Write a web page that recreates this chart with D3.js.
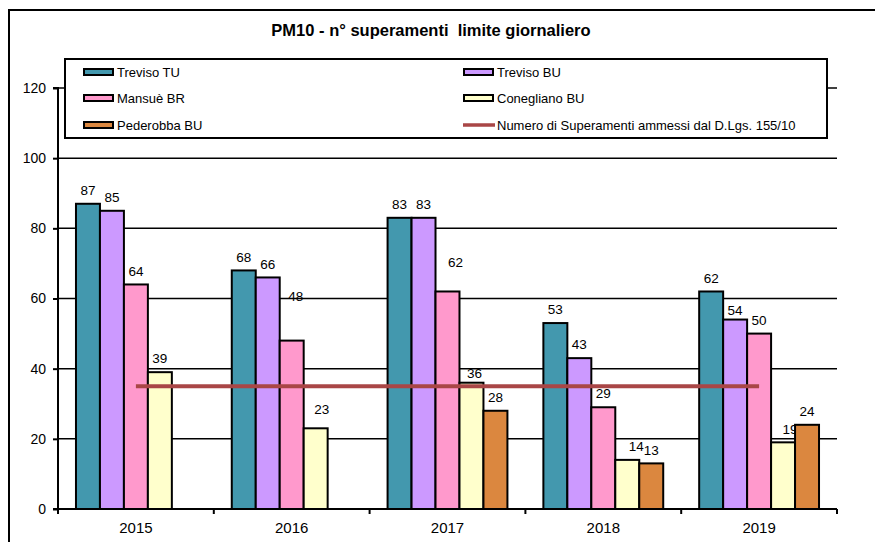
<!DOCTYPE html>
<html>
<head>
<meta charset="utf-8">
<script src="https://cdn.jsdelivr.net/npm/d3@7"></script>
<style>
  html, body { margin: 0; padding: 0; background: #fff; }
  svg { display: block; font-family: "Liberation Sans", Arial, sans-serif; }
</style>
</head>
<body>
<svg id="chart" width="875" height="542"></svg>
<script>
// ---- data ----
const years = ["2015", "2016", "2017", "2018", "2019"];
const seriesNames = ["Treviso TU", "Treviso BU", "Mansuè BR", "Conegliano BU", "Pederobba BU"];
const trevisoTU = [87, 68, 83, 53, 62];
const trevisoBU = [85, 66, 83, 43, 54];
const mansueBR = [64, 48, 62, 29, 50];
const coneglianoBU = [39, 23, 36, 14, 19];
const pederobbaBU = [null, null, 28, 13, 24];
const limitName = "Numero di Superamenti ammessi dal D.Lgs. 155/10";
const limitValues = [35, 35, 35, 35, 35];
const yTicks = [0, 20, 40, 60, 80, 100, 120];
const title = "PM10 - n° superamenti  limite giornaliero";

// ---- styles / layout ----
const seriesValues = [trevisoTU, trevisoBU, mansueBR, coneglianoBU, pederobbaBU];
const colors = ["#4398AE", "#CC99FF", "#FF99CC", "#FFFFCC", "#DB873F"];
const limitColor = "#A94646";
// label nudges (px) for labels that the original moved to avoid overlaps
const labelNudge = { "2-1": [4, -31], "3-1": [6, -6], "2-2": [8, -16], "3-2": [3, 4], "3-3": [9, 0], "1-4": [0, 4], "3-4": [7, 0] };

const svg = d3.select("#chart");
const plot = { left: 58, right: 837, top: 88, bottom: 509 };

// outer chart frame
svg.append("rect").attr("x", 9).attr("y", 10).attr("width", 880).attr("height", 560)
  .attr("fill", "#fff").attr("stroke", "#000").attr("stroke-width", 2);

// title
svg.append("text").attr("x", 431).attr("y", 30).attr("dy", "0.35em")
  .attr("text-anchor", "middle").style("white-space", "pre")
  .attr("font-size", 16.5).attr("font-weight", "bold").text(title);

const x = d3.scaleBand().domain(years).range([plot.left, plot.right]).padding(0);
const x1 = d3.scaleBand().domain(d3.range(seriesNames.length)).range([0, x.bandwidth()])
  .paddingInner(0).paddingOuter(0.75);
const y = d3.scaleLinear().domain([0, 120]).range([plot.bottom, plot.top]);

// gridlines
svg.append("g").selectAll("line").data(yTicks.filter(t => t > 0)).join("line")
  .attr("x1", plot.left).attr("x2", plot.right)
  .attr("y1", d => y(d)).attr("y2", d => y(d))
  .attr("stroke", "#000").attr("stroke-width", 1.5);

// bars + labels, series by series
seriesValues.forEach((vals, s) => {
  const g = svg.append("g");
  const data = vals.map((v, i) => ({ v, i, year: years[i] })).filter(d => d.v != null);
  g.selectAll("rect").data(data).join("rect")
    .attr("x", d => x(d.year) + x1(s))
    .attr("y", d => y(d.v))
    .attr("width", x1.bandwidth())
    .attr("height", d => y(0) - y(d.v))
    .attr("fill", colors[s]).attr("stroke", "#000").attr("stroke-width", 2);
  g.selectAll("text").data(data).join("text")
    .attr("x", d => x(d.year) + x1(s) + x1.bandwidth() / 2 + ((labelNudge[s + "-" + d.i] || [0, 0])[0]))
    .attr("y", d => y(d.v) - 13.5 + ((labelNudge[s + "-" + d.i] || [0, 0])[1]))
    .attr("dy", "0.35em").attr("text-anchor", "middle")
    .attr("font-size", 13.5).attr("fill", "#000").text(d => d.v);
});

// limit line
const line = d3.line().x((d, i) => x(years[i]) + x.bandwidth() / 2).y(d => y(d));
svg.append("path").datum(limitValues).attr("d", line)
  .attr("fill", "none").attr("stroke", limitColor).attr("stroke-width", 4);

// y axis
const yAxis = d3.axisLeft(y).tickValues(yTicks).tickSize(5).tickPadding(7);
const gy = svg.append("g").attr("transform", `translate(${plot.left},0)`).call(yAxis);
gy.select(".domain").attr("stroke", "#000").attr("stroke-width", 2).attr("d", `M-5,${plot.top}H0V${plot.bottom}H-5`);
gy.selectAll(".tick line").attr("stroke", "#000").attr("stroke-width", 2);
gy.selectAll(".tick text").attr("font-size", 14).attr("font-family", "Liberation Sans, Arial, sans-serif").attr("fill", "#000");

// x axis
const gx = svg.append("g").attr("transform", `translate(0,${plot.bottom})`);
gx.append("line").attr("x1", plot.left).attr("x2", plot.right).attr("stroke", "#000").attr("stroke-width", 2);
const bounds = years.map(yr => x(yr)).concat([plot.right]);
gx.selectAll("line.tk").data(bounds).join("line").attr("class", "tk")
  .attr("x1", d => d).attr("x2", d => d).attr("y1", 0).attr("y2", 5)
  .attr("stroke", "#000").attr("stroke-width", 2);
gx.selectAll("text").data(years).join("text")
  .attr("x", d => x(d) + x.bandwidth() / 2).attr("y", 19).attr("dy", "0.35em")
  .attr("text-anchor", "middle").attr("font-size", 15).text(d => d);

// legend
const lg = svg.append("g");
lg.append("rect").attr("x", 65).attr("y", 59).attr("width", 762).attr("height", 79)
  .attr("fill", "#fff").attr("stroke", "#000").attr("stroke-width", 2);
const legendItems = seriesNames.map((n, i) => ({ name: n, color: colors[i], type: "bar" }))
  .concat([{ name: limitName, color: limitColor, type: "line" }]);
const colX = [83, 463], rowY = [72, 98, 125];
legendItems.forEach((it, k) => {
  const lx = colX[k % 2], ly = rowY[Math.floor(k / 2)];
  if (it.type === "bar") {
    lg.append("rect").attr("x", lx + 1).attr("y", ly - 3).attr("width", 29).attr("height", 6)
      .attr("fill", it.color).attr("stroke", "#000").attr("stroke-width", 2);
  } else {
    lg.append("line").attr("x1", lx).attr("x2", lx + 32).attr("y1", ly).attr("y2", ly)
      .attr("stroke", it.color).attr("stroke-width", 3.5);
  }
  lg.append("text").attr("x", lx + 34).attr("y", ly).attr("dy", "0.35em")
    .attr("font-size", 13).text(it.name);
});
</script>
</body>
</html>
